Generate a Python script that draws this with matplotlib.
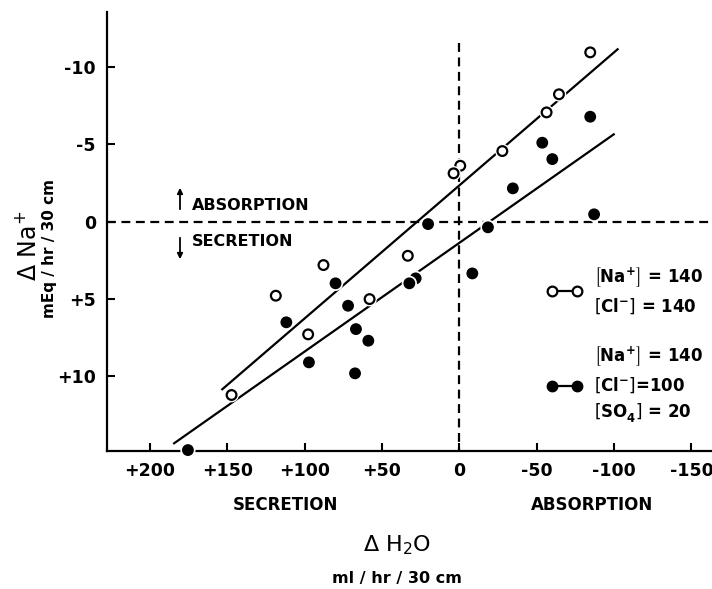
#!/usr/bin/env python3
"""
Delta Na+ vs Delta H2O scatter (two perfusion solutions) with fitted lines.
"""

import matplotlib
matplotlib.use('Agg')
import matplotlib.pyplot as plt
import matplotlib.patheffects as pe
from matplotlib.lines import Line2D

# --- data -----------------------------------------------------------------
# [Na+]=140, [Cl-]=140  (open circles)
open_h2o = [-84.6, -64.4, -56.4, -27.8, -0.6, 3.7, 33.3, 87.8, 58.0, 118.6, 97.7, 147.2]
open_na = [-10.95, -8.24, -7.07, -4.57, -3.62, -3.13, 2.2, 2.8, 5.0, 4.78, 7.28, 11.2]

# [Na+]=140, [Cl-]=100, [SO4]=20  (filled circles)
filled_h2o = [-84.6, -53.6, -60.1, -34.6, -87.1, 20.2, -18.5, -8.4, 28.2, 32.3,
              80.0, 71.9, 111.8, 66.8, 58.8, 97.2, 67.4, 175.4]
filled_na = [-6.79, -5.11, -4.05, -2.16, -0.48, 0.15, 0.36, 3.34, 3.66, 3.98,
             3.98, 5.43, 6.5, 6.94, 7.69, 9.09, 9.8, 14.76]

# fitted regression lines (end points as drawn)
fit_open_h2o = [153.2, -102.3]
fit_open_na = [10.83, -11.15]
fit_filled_h2o = [184.3, -99.8]
fit_filled_na = [14.32, -5.65]

x_ticks = [200, 150, 100, 50, 0, -50, -100, -150]
x_ticklabels = ['+200', '+150', '+100', '+50', '0', '-50', '-100', '-150']
y_ticks = [-10, -5, 0, 5, 10]
y_ticklabels = ['-10', '-5', '0', '+5', '+10']

label_open = ('$\\left[Na^{+}_{\\;}\\right]$ = 140\n'
              '$\\left[Cl^{-}_{\\;}\\right]$ = 140')
label_filled = ('$\\left[Na^{+}_{\\;}\\right]$ = 140\n'
                '$\\left[Cl^{-}_{\\;}\\right]$=100\n'
                '$\\left[SO_{4}^{\\;}\\right]$ = 20')


def main():
    plt.rcParams['font.family'] = ['DejaVu Sans']
    plt.rcParams['mathtext.fontset'] = 'dejavusans'
    plt.rcParams['mathtext.default'] = 'bf'

    W, H = 712, 589
    fig = plt.figure(figsize=(W / 100, H / 100), dpi=100)
    left, right, top, bottom = 107, 712, 12, 451
    ax = fig.add_axes([left / W, 1 - bottom / H, (right - left) / W, (bottom - top) / H])

    ax.set_xlim(227.7, -163.3)
    ax.set_ylim(14.82, -13.56)

    for s in ('top', 'right'):
        ax.spines[s].set_visible(False)
    for s in ('left', 'bottom'):
        ax.spines[s].set_linewidth(1.6)

    # reference lines
    ax.axhline(0, color='black', lw=1.6, dashes=(4, 2.5), zorder=1)
    ax.vlines(0, -11.55, 14.82, color='black', lw=1.6, linestyles=(0, (4, 2.5)), zorder=1)

    # fitted lines
    ax.plot(fit_open_h2o, fit_open_na, color='black', lw=1.6, zorder=2)
    ax.plot(fit_filled_h2o, fit_filled_na, color='black', lw=1.6, zorder=2)

    halo = [pe.withStroke(linewidth=3.5, foreground='white')]
    ax.plot(open_h2o, open_na, 'o', ms=7, mfc='white', mec='black', mew=1.6,
            ls='none', zorder=3, path_effects=halo, clip_on=False)
    ax.plot(filled_h2o, filled_na, 'o', ms=7.5, mfc='black', mec='black',
            ls='none', zorder=3, path_effects=halo, clip_on=False)

    ax.set_xticks(x_ticks)
    ax.set_xticklabels(x_ticklabels)
    ax.set_yticks(y_ticks)
    ax.set_yticklabels(y_ticklabels)
    ax.tick_params(axis='both', direction='in', length=6, width=1.5,
                   labelsize=12.5, pad=8)
    for t in ax.get_xticklabels() + ax.get_yticklabels():
        t.set_fontweight('bold')

    # absorption / secretion markers inside plot (figure pixels from bottom)
    arrow = dict(arrowstyle='-|>', color='black', lw=1.3, mutation_scale=8)
    ax.annotate('', xy=(180, H - 185), xytext=(180, H - 212),
                xycoords='figure pixels', textcoords='figure pixels', arrowprops=arrow)
    ax.annotate('', xy=(180, H - 262), xytext=(180, H - 235),
                xycoords='figure pixels', textcoords='figure pixels', arrowprops=arrow)
    fig.text(192 / W, 1 - 205 / H, 'ABSORPTION', fontsize=11.5, weight='bold',
             ha='left', va='center')
    fig.text(192 / W, 1 - 242 / H, 'SECRETION', fontsize=11.5, weight='bold',
             ha='left', va='center')

    # axis titles
    fig.text(285 / W, 1 - 505 / H, 'SECRETION', fontsize=12, weight='bold',
             ha='center', va='center')
    fig.text(592 / W, 1 - 505 / H, 'ABSORPTION', fontsize=12, weight='bold',
             ha='center', va='center')
    fig.text(397 / W, 1 - 545 / H, 'Δ H$_\\mathrm{2}$O', fontsize=16,
             ha='center', va='center')
    fig.text(397 / W, 1 - 579 / H, 'ml / hr / 30 cm', fontsize=11.5, weight='bold',
             ha='center', va='center')
    fig.text(28 / W, 1 - 246 / H, 'Δ Na$^\\mathrm{+}$', fontsize=17, rotation=90,
             ha='center', va='center')
    fig.text(50 / W, 1 - 249 / H, 'mEq / hr / 30 cm', fontsize=11, weight='bold',
             rotation=90, ha='center', va='center')

    # legend
    h_open = Line2D([], [], color='black', lw=1.6, marker='o', ms=7, mfc='white',
                    mec='black', mew=1.6)
    h_filled = Line2D([], [], color='black', lw=1.6, marker='o', ms=7.5,
                      mfc='black', mec='black')
    leg = ax.legend([h_open, h_filled], [label_open, label_filled], numpoints=2,
                    frameon=False, handlelength=2.1, handletextpad=0.75,
                    labelspacing=1.85, prop={'size': 12, 'weight': 'bold'},
                    loc='upper left', bbox_to_anchor=(547 / W, 1 - 265 / H),
                    bbox_transform=fig.transFigure, borderpad=0, borderaxespad=0)
    for t in leg.get_texts():
        t.set_linespacing(1.5)

    fig.savefig('out.png', dpi=100)


if __name__ == '__main__':
    main()
